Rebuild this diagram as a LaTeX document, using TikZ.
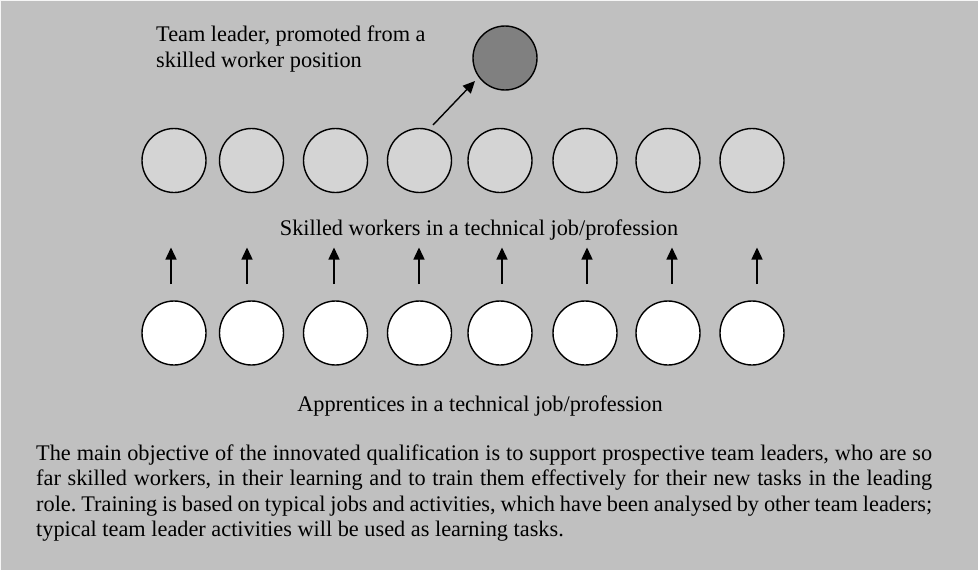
\documentclass[tikz,border=0pt]{standalone}
\usepackage{fontspec}
\setmainfont{Liberation Serif}
\usetikzlibrary{arrows.meta}
\definecolor{bg}{HTML}{C0C0C0}
\definecolor{skill}{HTML}{D4D4D4}
\definecolor{lead}{HTML}{808080}
\frenchspacing
\begin{document}
\begin{tikzpicture}[x=1pt,y=-1pt,
  person/.style={circle,draw=black,line width=1.4pt,minimum size=64pt,inner sep=0pt},
  apprentice/.style={person,fill=white},
  skilled/.style={person,fill=skill},
  leader/.style={person,fill=lead},
  lbl/.style={inner sep=0pt,font=\fontsize{22.3}{25.7}\selectfont},
  promo/.style={line width=1.4pt,-{Triangle[length=12pt,width=11pt]}}]
\useasboundingbox (0,0) rectangle (978,570);
\fill[bg] (0,0) rectangle (978,570);
\draw[white!85!bg,line width=1pt] (0.5,570) -- (0.5,0.5) -- (978,0.5);
% rows
\foreach \i/\x/\ax in {1/174/171,2/251.5/247,3/335.5/334,4/419.5/419,5/500/502,6/585/587,7/668/672,8/752/757}{
  \node[skilled] (s\i) at (\x,160.5) {};
  \node[apprentice] (a\i) at (\x,333) {};
  \coordinate (b\i) at (\ax,284);
  \coordinate (t\i) at (\ax,247.5);
  \draw[promo] (b\i) -- (t\i);
}
\node[leader] (tl) at (505,58) {};
\coordinate (pfrom) at (433,125);
\coordinate (pto) at (475,81);
\draw[promo] (pfrom) -- (pto);
% labels
\node[lbl,anchor=base west] (tltext) at (156,41.7) {\parbox[t]{320pt}{\fontsize{22.3}{26}\selectfont Team leader, promoted from a\\ skilled worker position}};
\node[lbl,anchor=base] (sktext) at (479,235) {Skilled workers in a technical job/profession};
\node[lbl,anchor=base] (aptext) at (480,411.7) {Apprentices in a technical job/profession};
\node[lbl,anchor=base west] (para) at (36,460) {\parbox[t]{896pt}{\fontsize{22.3}{25.6}\selectfont\frenchspacing The main objective of the innovated qualification is to support prospective team leaders, who are so\linebreak far skilled workers, in their learning and to train them effectively for their new tasks in the leading\linebreak role. Training is based on typical jobs and activities, which have been analysed by other team leaders;\linebreak typical team leader activities will be used as learning tasks.}};
\end{tikzpicture}
\end{document}
